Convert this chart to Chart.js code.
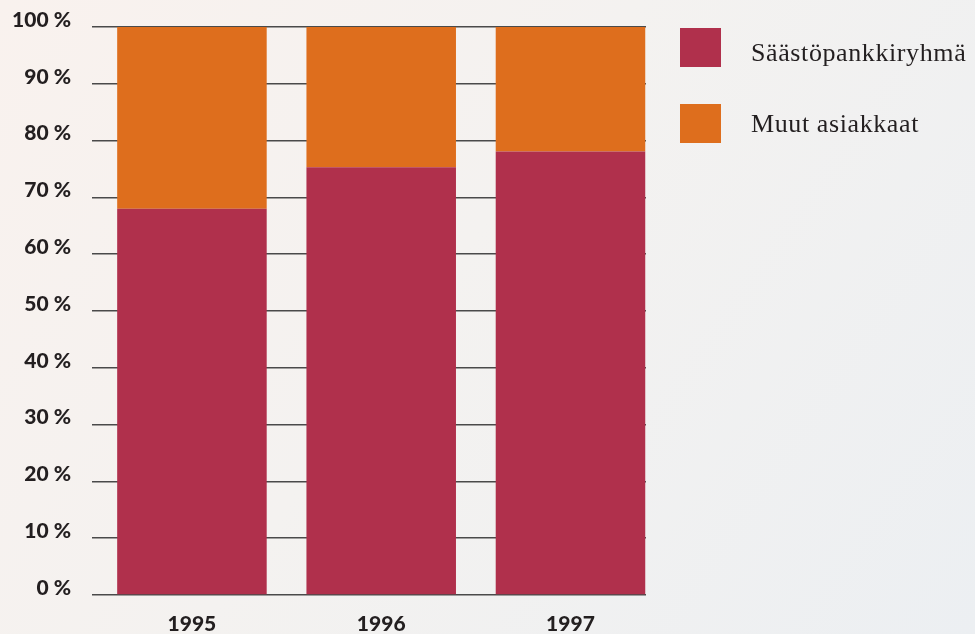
<!DOCTYPE html>
<html>
<head>
<meta charset="utf-8">
<script src="https://cdn.jsdelivr.net/npm/chart.js@4"></script>
<style>
  html, body { margin: 0; padding: 0; }
  body {
    width: 975px; height: 634px; overflow: hidden; position: relative;
    background: linear-gradient(125deg, #f9f2ee 0%, #f4f2f0 45%, #eceff2 100%);
  }
  #wrap { position: absolute; left: 0; top: 0; width: 975px; height: 634px; }
  .lg-box { position: absolute; left: 680px; width: 41px; height: 39px; }
  .lg-txt { position: absolute; left: 751px; font-family: "Liberation Serif", serif; font-size: 26px; line-height: 26px; color: #231f20; letter-spacing: 0.6px; white-space: nowrap; }
</style>
</head>
<body>
<div id="wrap"><canvas id="c" width="975" height="634"></canvas></div>
<div id="legend"></div>
<script>
const categories = ["1995", "1996", "1997"];
const seriesNames = ["Säästöpankkiryhmä", "Muut asiakkaat"];
const saastopankkiryhma = [68, 75.3, 78.1];
const muutAsiakkaat = [32, 24.7, 21.9];
const yTicks = [0, 10, 20, 30, 40, 50, 60, 70, 80, 90, 100];
const colors = ["#b0304c", "#de6e1d"];

const seriesValues = [saastopankkiryhma, muutAsiakkaat];
const datasets = seriesNames.map((name, s) => ({
  label: name,
  data: seriesValues[s].map((v, i) => ({ x: i, y: v })),
  backgroundColor: colors[s],
  borderWidth: 0,
  barPercentage: 0.79,
  categoryPercentage: 1.0
}));

// HTML legend
const lg = document.getElementById('legend');
const boxTops = [28, 104];
const txtTops = [40, 111];
seriesNames.forEach((n, i) => {
  const b = document.createElement('div');
  b.className = 'lg-box'; b.style.top = boxTops[i] + 'px'; b.style.background = colors[i];
  lg.appendChild(b);
  const t = document.createElement('div');
  t.className = 'lg-txt'; t.style.top = txtTops[i] + 'px'; t.textContent = n;
  lg.appendChild(t);
});

const tickFont = { family: "Lato", weight: "900", size: 21 };

new Chart(document.getElementById('c'), {
  type: 'bar',
  data: { datasets },
  options: {
    responsive: false,
    animation: false,
    layout: { padding: { left: 0, right: 329, top: 27, bottom: 0 } },
    plugins: { legend: { display: false }, tooltip: { enabled: false } },
    scales: {
      x: {
        type: 'linear',
        stacked: true,
        offset: false,
        min: -0.528,
        max: 2.399,
        grid: { display: false, drawTicks: false, offset: false },
        border: { display: false },
        afterBuildTicks: (scale) => { scale.ticks = categories.map((_, i) => ({ value: i })); },
        afterFit: (scale) => { scale.height = 39; scale.paddingLeft = 0; scale.paddingRight = 0; },
        ticks: {
          callback: (v) => categories[v],
          font: tickFont,
          color: '#231f20',
          padding: 17,
          maxRotation: 0,
          autoSkip: false
        }
      },
      y: {
        stacked: true,
        min: 0,
        max: 100,
        afterBuildTicks: (scale) => { scale.ticks = yTicks.map(v => ({ value: v })); },
        afterFit: (scale) => { scale.width = 92; scale.paddingTop = 0; scale.paddingBottom = 0; },
        grid: { color: '#4a4a4a', lineWidth: 1.6, drawTicks: false },
        border: { display: false },
        ticks: {
          callback: (v) => v + ' %',
          font: tickFont,
          color: '#231f20',
          padding: 21,
          labelOffset: -7
        }
      }
    }
  }
});
</script>
</body>
</html>
